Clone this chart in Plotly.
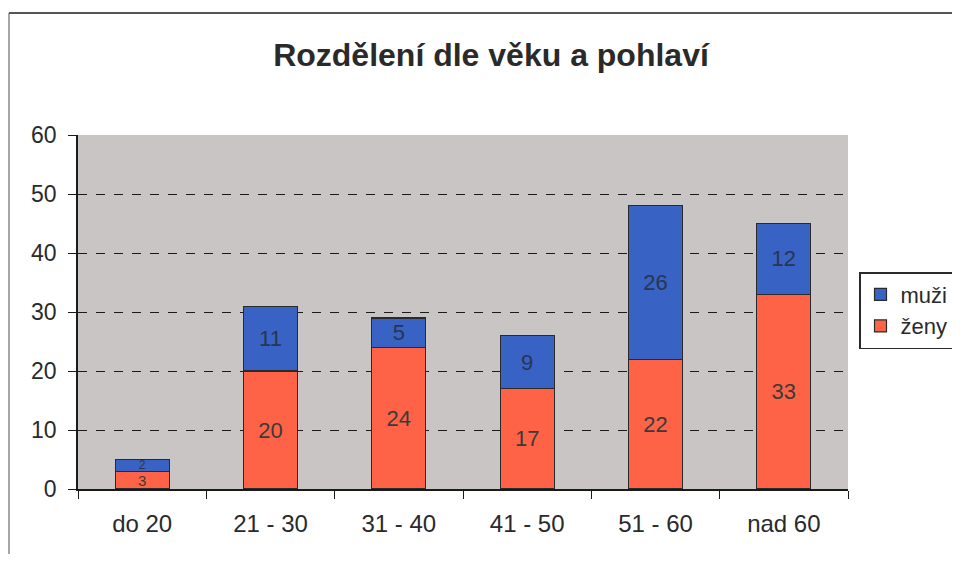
import plotly.graph_objects as go

categories = ["do 20", "21 - 30", "31 - 40", "41 - 50", "51 - 60", "nad 60"]
zeny = [3, 20, 24, 17, 22, 33]
muzi = [2, 11, 5, 9, 26, 12]

font = "Liberation Sans, Arial, sans-serif"

# the page body adds an 8px offset; figure sized so the page does not scroll
W, H = 944, 546
L, T, PW, PH = 70, 127, 770, 354
R = W - L - PW
B = H - T - PH

def px_to_x(px):
    return (px - L) / PW

def px_to_y(py):
    return (T + PH - py) / PH

zeny_sizes = [15] + [22] * (len(zeny) - 1)
muzi_sizes = [12] + [22] * (len(muzi) - 1)

fig = go.Figure()
fig.add_trace(go.Bar(
    x=categories, y=zeny, name="ženy", text=zeny,
    marker=dict(color="#ff6347", line=dict(color="#2a2a2a", width=1.2)),
    textposition="inside", insidetextanchor="middle", textangle=0,
    constraintext="none",
    textfont=dict(color="#3a3a3a", size=zeny_sizes, family=font),
))
fig.add_trace(go.Bar(
    x=categories, y=muzi, name="muži", text=muzi,
    marker=dict(color="#3862c4", line=dict(color="#2a2a2a", width=1.2)),
    textposition="inside", insidetextanchor="middle", textangle=0,
    constraintext="none",
    textfont=dict(color="#2a3550", size=muzi_sizes, family=font),
))

fig.update_layout(
    barmode="stack",
    bargap=0.58,
    width=W, height=H,
    paper_bgcolor="white",
    plot_bgcolor="#c9c5c5",
    margin=dict(l=L, r=R, t=T, b=B, autoexpand=False),
    title=dict(text="<b>Rozdělení dle věku a pohlaví</b>",
               x=483 / W, xanchor="center", xref="container",
               y=1 - 47 / H, yanchor="middle", yref="container",
               font=dict(family=font, size=32, color="#2a2a2a")),
    font=dict(family=font, size=22, color="#2a2a2a"),
    legend=dict(
        x=px_to_x(851), xanchor="left", y=px_to_y(264), yanchor="top",
        traceorder="reversed",
        bgcolor="white", bordercolor="#2a2a2a", borderwidth=1.5,
        font=dict(family=font, size=22, color="#2a2a2a"),
        itemwidth=30, tracegroupgap=4,
    ),
    showlegend=True,
)
fig.update_xaxes(
    showgrid=False, showline=True, linecolor="#1a1a1a", linewidth=1.5,
    ticks="outside", tickson="boundaries", ticklen=8, tickcolor="#1a1a1a",
    ticklabelstandoff=12,
    tickfont=dict(size=24, family=font, color="#2a2a2a"),
)
fig.update_yaxes(
    range=[0, 60], dtick=10, showgrid=True, gridcolor="#1a1a1a", griddash="dash",
    gridwidth=1, showline=True, linecolor="#1a1a1a", linewidth=1.5,
    ticks="outside", ticklen=8, tickcolor="#1a1a1a", zeroline=False,
    ticklabelstandoff=7,
    tickfont=dict(size=23, family=font, color="#2a2a2a"),
)

# outer chart frame
fig.add_shape(type="line", xref="paper", yref="paper",
              x0=px_to_x(1), x1=px_to_x(1), y0=px_to_y(H), y1=px_to_y(5),
              line=dict(color="#888888", width=1.5))
fig.add_shape(type="line", xref="paper", yref="paper",
              x0=px_to_x(1), x1=px_to_x(W), y0=px_to_y(5), y1=px_to_y(5),
              line=dict(color="#555555", width=2))

fig.write_html("out.html")
